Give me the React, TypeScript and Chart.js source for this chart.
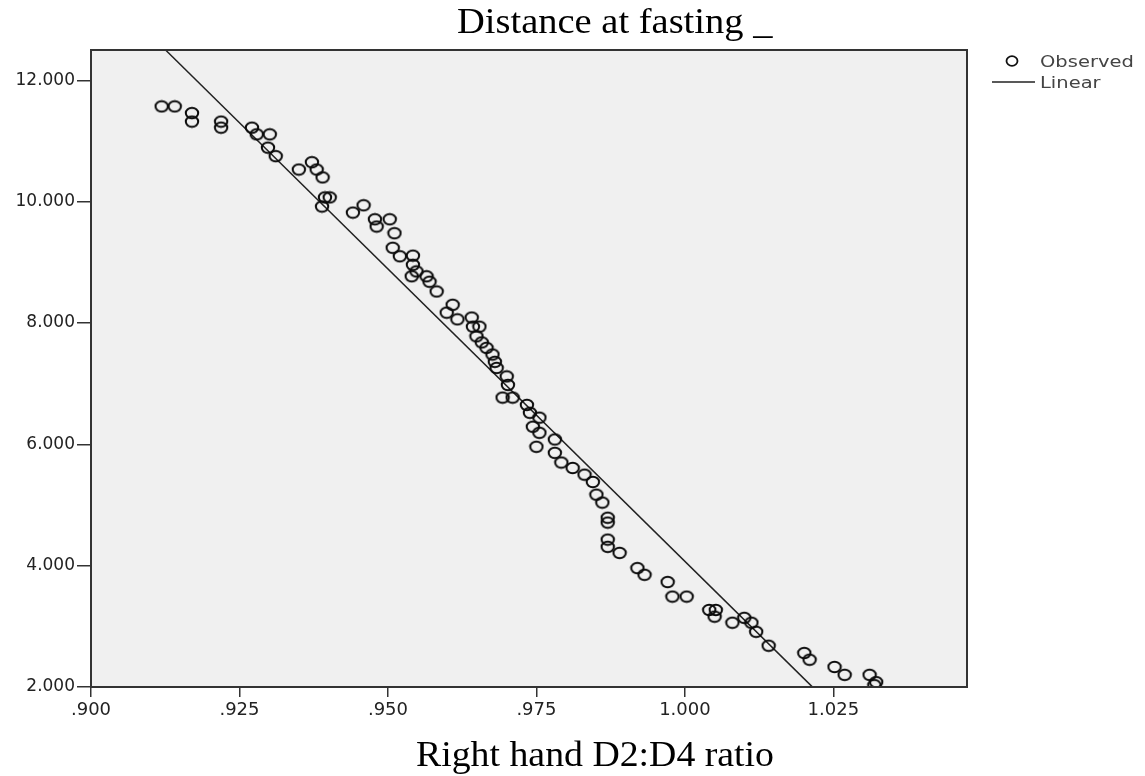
import React, { useEffect, useRef } from "react";
import { Chart, registerables } from "chart.js";

Chart.register(...registerables);

const chartTitle = "Distance at fasting _";
const xAxisTitle = "Right hand D2:D4 ratio";
const legendLabels = ["Observed", "Linear"];

const xTicks = [0.9, 0.925, 0.95, 0.975, 1.0, 1.025];
const yTicks = [2, 4, 6, 8, 10, 12];
const xRange = [0.9, 1.0475];
const yRange = [2, 12.5];

const observedX = [
  0.9119, 0.9141, 0.917, 0.917, 0.9219, 0.9219, 0.9271, 0.9279, 0.9301, 0.9298,
  0.9311, 0.935, 0.9372, 0.938, 0.939, 0.9394, 0.9389, 0.9402, 0.9441, 0.9459,
  0.9478, 0.9481, 0.9503, 0.9511, 0.9508, 0.952, 0.9542, 0.9542, 0.9548, 0.954,
  0.9565, 0.957, 0.9582, 0.9609, 0.9599, 0.9617, 0.9641, 0.9643, 0.9654, 0.9649,
  0.9658, 0.9666, 0.9676, 0.968, 0.9683, 0.97, 0.9702, 0.9693, 0.971, 0.9734,
  0.9739, 0.9755, 0.9744, 0.9755, 0.9781, 0.975, 0.9781, 0.9792, 0.9811, 0.9831,
  0.9845, 0.9851, 0.9861, 0.987, 0.987, 0.987, 0.987, 0.989, 0.992, 0.9932,
  0.9971, 0.9979, 1.0003, 1.0041, 1.0052, 1.005, 1.008, 1.01, 1.0112, 1.012,
  1.0141, 1.0201, 1.021, 1.0252, 1.0269, 1.0311, 1.0322, 1.0319,
];
const observedY = [
  11.57, 11.57, 11.46, 11.32, 11.32, 11.22, 11.22, 11.11, 11.11, 10.89,
  10.75, 10.53, 10.65, 10.53, 10.4, 10.07, 9.92, 10.07, 9.82, 9.94,
  9.71, 9.59, 9.71, 9.48, 9.24, 9.1, 9.11, 8.96, 8.85, 8.77,
  8.77, 8.68, 8.52, 8.3, 8.17, 8.06, 8.09, 7.94, 7.94, 7.78,
  7.68, 7.59, 7.48, 7.36, 7.26, 7.12, 6.98, 6.77, 6.77, 6.65,
  6.52, 6.44, 6.29, 6.19, 6.08, 5.96, 5.86, 5.7, 5.61, 5.5,
  5.38, 5.17, 5.04, 4.79, 4.71, 4.43, 4.31, 4.21, 3.96, 3.85,
  3.73, 3.49, 3.49, 3.27, 3.27, 3.16, 3.06, 3.14, 3.06, 2.91,
  2.68, 2.56, 2.45, 2.33, 2.2, 2.2, 2.08, 2.03,
];

const fitSlope = -96.4;
const fitIntercept = 100.47;
const fitX = [0.9126, 1.0215];

const fmtX = (v: number) => (v < 1 ? v.toFixed(3).slice(1) : v.toFixed(3));
const fmtY = (v: number) => v.toFixed(3);

function makeMarker(): HTMLCanvasElement {
  const c = document.createElement("canvas");
  c.width = 16;
  c.height = 14;
  const g = c.getContext("2d")!;
  g.strokeStyle = "#0a0a0a";
  g.lineWidth = 2;
  g.beginPath();
  g.ellipse(8, 7, 6.2, 5.2, 0, 0, Math.PI * 2);
  g.stroke();
  return c;
}

const decorPlugin = {
  id: "decor",
  beforeDraw(chart: any) {
    const { ctx, chartArea: a } = chart;
    ctx.save();
    ctx.fillStyle = "#f0f0f0";
    ctx.fillRect(a.left, a.top, a.right - a.left, a.bottom - a.top);
    ctx.restore();
  },
  afterDraw(chart: any) {
    const { ctx, chartArea: a } = chart;
    ctx.save();
    ctx.strokeStyle = "#333";
    ctx.lineWidth = 2;
    ctx.strokeRect(a.left, a.top, a.right - a.left, a.bottom - a.top);

    ctx.fillStyle = "#000";
    ctx.textBaseline = "alphabetic";
    ctx.textAlign = "left";
    ctx.font = '35px "Liberation Serif", "Times New Roman", serif';
    ctx.save();
    ctx.translate(457, 33);
    ctx.scale(1.1, 1);
    ctx.fillText(chartTitle, 0, 0);
    ctx.restore();

    ctx.save();
    const w = ctx.measureText(xAxisTitle).width * 1.08;
    ctx.translate(595 - w / 2, 766);
    ctx.scale(1.08, 1);
    ctx.fillText(xAxisTitle, 0, 0);
    ctx.restore();

    ctx.strokeStyle = "#111";
    ctx.lineWidth = 1.8;
    ctx.beginPath();
    ctx.ellipse(1012, 61, 5.5, 4.8, 0, 0, Math.PI * 2);
    ctx.stroke();
    ctx.strokeStyle = "#222";
    ctx.lineWidth = 1.5;
    ctx.beginPath();
    ctx.moveTo(992, 82);
    ctx.lineTo(1035, 82);
    ctx.stroke();
    ctx.fillStyle = "#444";
    ctx.font = '15px "DejaVu Sans", sans-serif';
    ctx.save();
    ctx.translate(1040, 67);
    ctx.scale(1.3, 1);
    ctx.fillText(legendLabels[0], 0, 0);
    ctx.restore();
    ctx.save();
    ctx.translate(1040, 88);
    ctx.scale(1.3, 1);
    ctx.fillText(legendLabels[1], 0, 0);
    ctx.restore();
    ctx.restore();
  },
};

export default function App() {
  const ref = useRef<HTMLCanvasElement | null>(null);
  useEffect(() => {
    if (!ref.current) return;
    const marker = makeMarker();
    const points = observedX.map((x, i) => ({ x, y: observedY[i] }));
    const fitPoints = fitX.map((x) => ({ x, y: fitIntercept + fitSlope * x }));
    const chart = new Chart(ref.current, {
      type: "scatter",
      data: {
        datasets: [
          {
            label: legendLabels[0],
            data: points,
            pointStyle: marker as any,
            pointRadius: 6,
            pointHoverRadius: 6,
            backgroundColor: "rgba(0,0,0,0)",
            borderColor: "#0a0a0a",
          },
          {
            label: legendLabels[1],
            data: fitPoints,
            showLine: true,
            pointRadius: 0,
            borderColor: "#222",
            borderWidth: 1.5,
            backgroundColor: "rgba(0,0,0,0)",
          } as any,
        ],
      },
      options: {
        animation: false,
        responsive: false,
        events: [],
        layout: { padding: { left: 0, top: 50, right: 178, bottom: 0 } },
        plugins: {
          legend: { display: false },
          title: { display: false },
          tooltip: { enabled: false },
        },
        scales: {
          x: {
            type: "linear",
            min: xRange[0],
            max: xRange[1],
            afterFit: (s: any) => {
              s.height = 89;
            },
            afterBuildTicks: (s: any) => {
              s.ticks = xTicks.map((v) => ({ value: v }));
            },
            ticks: {
              callback: (v: any) => fmtX(Number(v)),
              color: "#222",
              font: { family: '"DejaVu Sans", sans-serif', size: 18 },
              padding: 3,
              maxRotation: 0,
              autoSkip: false,
            },
            grid: {
              drawOnChartArea: false,
              drawTicks: true,
              tickLength: 10,
              color: "#333",
              lineWidth: 1.5,
            },
            border: { display: true, color: "#333", width: 2 },
          },
          y: {
            type: "linear",
            min: yRange[0],
            max: yRange[1],
            afterFit: (s: any) => {
              s.width = 91;
            },
            afterBuildTicks: (s: any) => {
              s.ticks = yTicks.map((v) => ({ value: v }));
            },
            ticks: {
              callback: (v: any) => fmtY(Number(v)),
              color: "#222",
              font: { family: '"DejaVu Sans", sans-serif', size: 17 },
              padding: 2,
              autoSkip: false,
            },
            grid: {
              drawOnChartArea: false,
              drawTicks: true,
              tickLength: 14,
              color: "#333",
              lineWidth: 1.5,
            },
            border: { display: true, color: "#333", width: 2 },
          },
        },
      } as any,
      plugins: [decorPlugin],
    });
    return () => chart.destroy();
  }, []);
  return (
    <div style={{ position: "absolute", left: 0, top: 0, width: 1145, height: 776, background: "#fff" }}>
      <canvas ref={ref} width={1145} height={776} />
    </div>
  );
}
